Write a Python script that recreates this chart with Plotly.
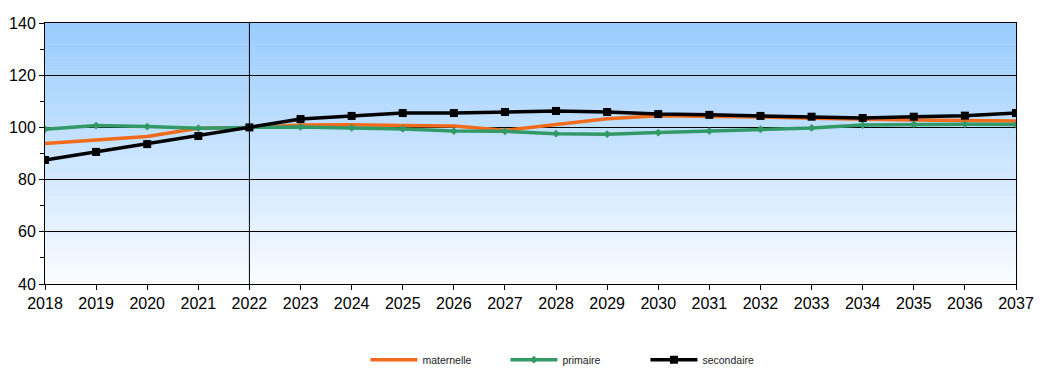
import plotly.graph_objects as go

years = list(range(2018, 2038))
maternelle = [93.8, 95.2, 96.5, 99.7, 100.0, 100.9, 101.0, 100.7, 100.5, 98.9, 101.0, 103.3, 104.5,
              104.3, 104.0, 103.5, 103.0, 102.8, 102.6, 102.5]
primaire = [99.3, 100.7, 100.3, 99.7, 100.0, 100.2, 99.8, 99.4, 98.6, 98.5, 97.6, 97.4, 98.0,
            98.6, 99.3, 99.8, 100.9, 101.2, 101.2, 101.1]
secondaire = [87.5, 90.6, 93.6, 96.7, 100.0, 103.2, 104.4, 105.5, 105.5, 105.9, 106.3, 105.9, 105.1,
              104.8, 104.4, 104.1, 103.6, 104.1, 104.5, 105.5]
y_ticks = [40, 60, 80, 100, 120, 140]

fig = go.Figure()
fig.add_trace(go.Scatter(x=years, y=maternelle, name="maternelle", mode="lines",
                         line=dict(color="#F26B1D", width=3.5)))
fig.add_trace(go.Scatter(x=years, y=primaire, name="primaire", mode="lines+markers",
                         line=dict(color="#339966", width=3.5),
                         marker=dict(symbol="diamond", size=6, color="#339966")))
fig.add_trace(go.Scatter(x=years, y=secondaire, name="secondaire", mode="lines+markers",
                         line=dict(color="#000000", width=3.5),
                         marker=dict(symbol="square", size=8, color="#000000")))

# gradient background bands
n = 60
top = (153, 204, 255)
bot = (250, 252, 255)
shapes = []
for i in range(n):
    t = i / (n - 1)
    c = tuple(round(top[k] + (bot[k] - top[k]) * t) for k in range(3))
    y1 = 1 - i / n
    y0 = 1 - (i + 1) / n
    shapes.append(dict(type="rect", xref="x domain", yref="y domain", x0=0, x1=1,
                       y0=y0, y1=min(1, y1 + 0.002), fillcolor="rgb(%d,%d,%d)" % c,
                       line=dict(width=0), layer="below"))
shapes.append(dict(type="line", xref="x", yref="y domain", x0=2022, x1=2022, y0=0, y1=1,
                   line=dict(color="black", width=1)))

fig.update_layout(
    width=1045, height=381,
    margin=dict(l=37, r=37, t=15, b=105, autoexpand=False),
    paper_bgcolor="white", plot_bgcolor="white",
    font=dict(family="Arial, Liberation Sans", size=15, color="black"),
    shapes=shapes,
    showlegend=True,
    legend=dict(orientation="h", x=0.33, xanchor="left", y=-0.29, yanchor="middle",
                font=dict(size=10.5, family="Arial, Liberation Sans", color="#222222"),
                itemwidth=47, entrywidth=78, entrywidthmode="pixels",
                bgcolor="rgba(0,0,0,0)", traceorder="normal"),
    xaxis=dict(range=[2018, 2037], tickmode="array", tickvals=years,
               ticktext=[str(y) for y in years], showgrid=False, zeroline=False,
               showline=True, linecolor="black", linewidth=1, mirror=True,
               ticks="outside", ticklen=5, tickcolor="black", tickfont=dict(size=16)),
    yaxis=dict(range=[40, 140], tickmode="array", tickvals=y_ticks, showgrid=True,
               gridcolor="black", gridwidth=1, zeroline=False, showline=True,
               linecolor="black", linewidth=1, mirror=True, ticks="outside", ticklen=5,
               tickcolor="black", tickfont=dict(size=16),
               minor=dict(tickvals=[50, 70, 90, 110, 130], ticks="outside", ticklen=4,
                          tickcolor="black", showgrid=False)),
)

fig.write_html("out.html")
